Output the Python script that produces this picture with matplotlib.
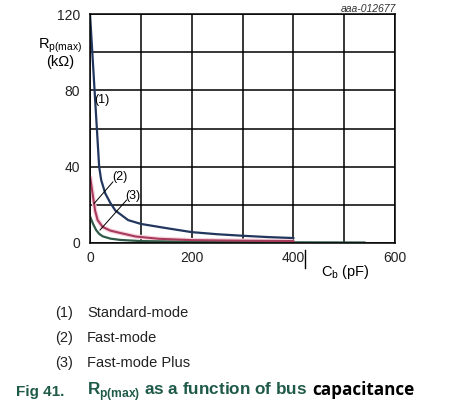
import matplotlib
matplotlib.use('Agg')
import matplotlib.pyplot as plt
from matplotlib.lines import Line2D

plt.rcParams['font.family'] = ['Liberation Sans', 'DejaVu Sans']

# dados (Cb em pF, Rp(max) em kOhm)
cb_std = [0, 18, 22, 30, 40, 50, 75, 100, 150, 200, 250, 300, 350, 400]
rp_std = [120, 40, 33, 26, 21, 17, 12, 10, 7.8, 5.7, 4.6, 3.8, 3.1, 2.6]

cb_fast = [0, 5, 10, 15, 25, 40, 57, 90, 135, 200, 300, 400]
rp_fast = [35, 26, 17, 12, 8.4, 6.5, 5.4, 3.4, 2.2, 1.5, 1.2, 1.0]

cb_plus = [0, 6, 12, 18, 25, 40, 60, 100, 200, 300, 400, 540]
rp_plus = [14, 10, 6.8, 4.8, 3.5, 2.3, 1.6, 1.0, 0.6, 0.45, 0.35, 0.25]

x_ticks = [0, 100, 200, 300, 400, 500, 600]
x_labels = ['0', '', '200', '', '400', '', '600']
y_ticks = [0, 20, 40, 60, 80, 100, 120]
y_labels = ['0', '', '40', '', '80', '', '120']

fig = plt.figure(figsize=(4.7, 4.04), dpi=100)
ax = fig.add_axes([90/470, 1 - 243/404, 305/470, 229/404])

ax.plot(cb_fast, rp_fast, color='#f7d3dd', lw=3.2, solid_capstyle='butt')
ax.plot(cb_plus, rp_plus, color='#2f5a48', lw=1.6)
ax.plot(cb_fast, rp_fast, color='#a83a5c', lw=1.5)
ax.plot(cb_std, rp_std, color='#22375e', lw=1.6)

ax.set_xlim(0, 600)
ax.set_ylim(0, 120)
ax.set_xticks(x_ticks)
ax.set_xticklabels(x_labels)
ax.set_yticks(y_ticks)
ax.set_yticklabels(y_labels)
ax.tick_params(length=0, labelsize=10, colors='#222222')
ax.tick_params(axis='x', pad=6)
ax.tick_params(axis='y', pad=7)
ax.grid(True, color='black', lw=1.1)
for s in ax.spines.values():
    s.set_linewidth(1.1)

# rotulos das curvas
ax.text(23.6, 75, '(1)', fontsize=9, ha='center', va='center')
ax.text(59, 34.6, '(2)', fontsize=9, ha='center', va='center')
ax.plot([45, 8.5], [32, 20.8], color='black', lw=0.7)
ax.text(84.5, 24.6, '(3)', fontsize=9, ha='center', va='center')
ax.plot([72, 19.7], [22.5, 6.8], color='black', lw=0.7)

# textos
fig.text(396/470, 1 - 9/404, 'aaa-012677', fontsize=7.5, style='italic',
         ha='right', va='center', color='#333333')
fig.text(60/470, 1 - 46/404, r'R$_{\mathregular{p(max)}}$', fontsize=10.5,
         ha='center', va='center')
fig.text(60/470, 1 - 62/404, '(kΩ)', fontsize=10.5, ha='center', va='center')
fig.text(345/470, 1 - 272/404, r'C$_{\mathregular{b}}$ (pF)', fontsize=10.5,
         ha='center', va='center')
fig.add_artist(Line2D([305/470, 305/470], [1 - 250/404, 1 - 268/404],
                      color='black', lw=1))

legenda = ['(1)', '(2)', '(3)']
nomes = ['Standard-mode', 'Fast-mode', 'Fast-mode Plus']
linhas_y = [313, 338, 363]
for num, nome, yy in zip(legenda, nomes, linhas_y):
    fig.text(55/470, 1 - yy/404, num, fontsize=10.5, va='center', color='#222222')
    fig.text(87/470, 1 - yy/404, nome, fontsize=10.5, va='center', color='#222222')

fig.text(16/470, 1 - 392/404, 'Fig 41.', fontsize=11, weight='bold',
         va='center', color='#1f5a48')
fig.text(87/470, 1 - 392/404, r'R$_{\mathregular{p(max)}}$ as a function of bus',
         fontsize=12.3, weight='bold', va='center', color='#1f5a48')
fig.text(312/470, 1 - 390/404, 'capacitance', fontsize=12.3, weight='bold',
         va='center', color='black', family=['Open Sans', 'DejaVu Sans'])

fig.savefig('out.png', dpi=100)
